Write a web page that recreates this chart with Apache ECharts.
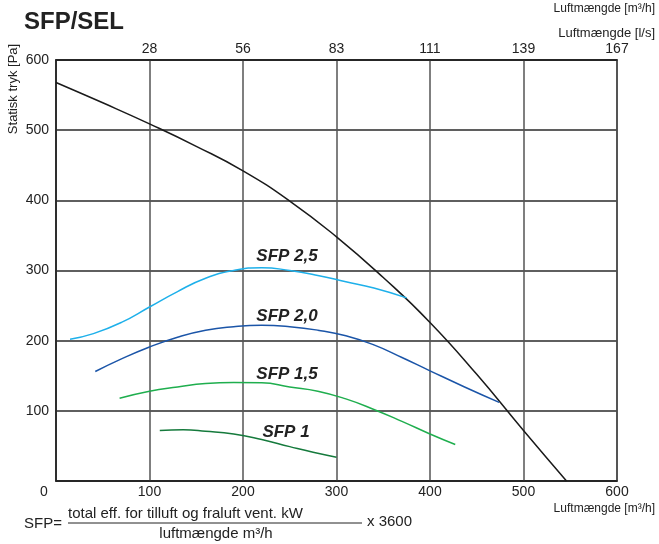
<!DOCTYPE html>
<html><head><meta charset="utf-8">
<script src="https://cdn.jsdelivr.net/npm/echarts@6/dist/echarts.min.js"></script>
<style>html,body{margin:0;padding:0;background:#fff}#c{width:659px;height:544px}</style>
</head><body><div id="c"></div>
<script>
// ---- data ----
const xTickValues = [0, 100, 200, 300, 400, 500, 600];
const topTickLabels = ['', '28', '56', '83', '111', '139', '167'];
const yTickValues = [0, 100, 200, 300, 400, 500, 600];

const systemCurve = [[0,568],[50,539],[100,509],[150,477],[200,442],[250,399],[300,348],[350,290],[400,226],[450,152],[500,72],[546,0]];
const sfp25 = [[15,202],[40,210],[70,226],[100,248],[130,270],[160,289],[190,300],[220,304],[250,300],[280,293],[310,284],[340,275],[375,261]];
const sfp20 = [[42,156],[70,174],[100,191],[130,205],[160,215],[190,220],[220,222],[250,220],[280,215],[310,207],[340,194],[370,176],[400,157],[437,134],[474,112]];
const sfp15 = [[68,118],[100,128],[130,134],[160,139],[190,140.5],[220,140],[250,134],[280,128],[310,117],[340,102],[370,85],[400,67],[427,52]];
const sfp10 = [[111,72],[136,73],[160,71],[190,67],[220,59],[250,49],[275,41],[300,34]];
const sfpNames = ['SFP 2,5', 'SFP 2,0', 'SFP 1,5', 'SFP 1'];

// ---- chart ----
const FONT = "'Liberation Sans', Arial, sans-serif";
const chart = echarts.init(document.getElementById('c'), null, {renderer: 'canvas'});

const curveSeries = (name, data, color) => ({
  name, type: 'line', data, smooth: 0.5, symbol: 'none',
  lineStyle: {color, width: 1.5}, xAxisIndex: 0, yAxisIndex: 0, z: 3
});

const labelPos = [[287,256],[287,316],[287,374],[286,432.5]];

chart.setOption({
  animation: false,
  backgroundColor: '#fff',
  textStyle: {fontFamily: FONT},
  grid: {left: 56, right: 42, top: 60, bottom: 63, show: true, borderColor: '#222', borderWidth: 1.5, backgroundColor: 'transparent'},
  xAxis: [{
    type: 'value', min: 0, max: 600, interval: 100, position: 'bottom',
    axisLine: {show: true, lineStyle: {color: '#222', width: 1.5}},
    axisTick: {show: false},
    splitLine: {show: true, lineStyle: {color: '#555', width: 1.5}},
    axisLabel: {
      color: '#222', fontSize: 14, fontFamily: FONT, margin: 4,
      formatter: v => v === 0 ? '{z|0}' : String(v),
      rich: {z: {fontSize: 14, color: '#222', fontFamily: FONT, padding: [0, 24, 0, 0]}}
    }
  }, {
    type: 'value', min: 0, max: 600, interval: 100, position: 'top',
    axisLine: {show: true, lineStyle: {color: '#222', width: 1.5}},
    axisTick: {show: false}, splitLine: {show: false},
    axisLabel: {
      color: '#222', fontSize: 14, fontFamily: FONT, margin: 4,
      formatter: v => topTickLabels[xTickValues.indexOf(v)] || ''
    }
  }],
  yAxis: [{
    type: 'value', min: 0, max: 600, interval: 100,
    axisLine: {show: true, lineStyle: {color: '#222', width: 1.5}},
    axisTick: {show: false},
    splitLine: {show: true, lineStyle: {color: '#2a2a2a', width: 1.5}},
    axisLabel: {
      color: '#222', fontSize: 14, fontFamily: FONT, margin: 7,
      formatter: v => (yTickValues.indexOf(v) > 0 ? String(v) : '')
    }
  }],
  series: [
    curveSeries('system', systemCurve, '#1a1a1a'),
    curveSeries(sfpNames[0], sfp25, '#1eb0ea'),
    curveSeries(sfpNames[1], sfp20, '#1b55a8'),
    curveSeries(sfpNames[2], sfp15, '#1fae4e'),
    curveSeries(sfpNames[3], sfp10, '#157a3c')
  ],
  graphic: [
    {type: 'text', left: 24, top: 10, style: {text: 'SFP/SEL', font: "bold 24px " + FONT, fill: '#222'}},
    {type: 'text', x: 13, y: 89, rotation: Math.PI / 2, style: {text: 'Statisk tryk [Pa]', font: "13px " + FONT, fill: '#222', align: 'center', verticalAlign: 'middle'}},
    {type: 'text', x: 655, y: 3, style: {text: 'Luftmængde [m³/h]', font: "12px " + FONT, fill: '#222', align: 'right', verticalAlign: 'alphabetic'}},
    {type: 'text', x: 655, y: 33, style: {text: 'Luftmængde [l/s]', font: "13px " + FONT, fill: '#222', align: 'right', verticalAlign: 'middle'}},
    {type: 'text', x: 655, y: 509, style: {text: 'Luftmængde [m³/h]', font: "12px " + FONT, fill: '#222', align: 'right', verticalAlign: 'middle'}},
    {type: 'text', x: 24, y: 523.5, style: {text: 'SFP=', font: "15px " + FONT, fill: '#222', align: 'left', verticalAlign: 'middle'}},
    {type: 'text', x: 68, y: 514, style: {text: 'total eff. for tilluft og fraluft vent. kW', font: "15px " + FONT, fill: '#222', align: 'left', verticalAlign: 'middle'}},
    {type: 'line', shape: {x1: 68, y1: 523, x2: 362, y2: 523}, style: {stroke: '#222', lineWidth: 1}},
    {type: 'text', x: 216, y: 534, style: {text: 'luftmængde m³/h', font: "15px " + FONT, fill: '#222', align: 'center', verticalAlign: 'middle'}},
    {type: 'text', x: 367, y: 522, style: {text: 'x 3600', font: "15px " + FONT, fill: '#222', align: 'left', verticalAlign: 'middle'}}
  ].concat(sfpNames.map((n, i) => ({
    type: 'text', x: labelPos[i][0], y: labelPos[i][1], z: 10,
    style: {text: n, font: "italic bold 17px " + FONT, fill: '#222', align: 'center', verticalAlign: 'middle'}
  })))
});
</script>
</body></html>
